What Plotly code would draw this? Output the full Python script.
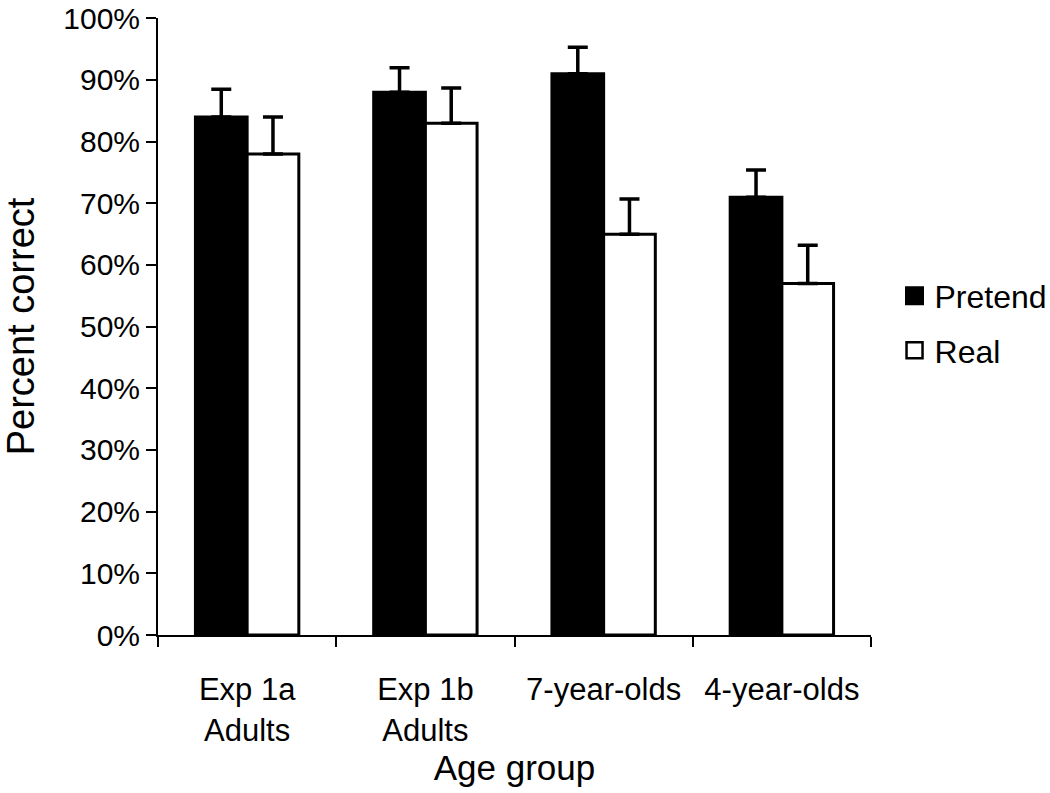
import plotly.graph_objects as go

categories = ["Exp 1a<br>Adults", "Exp 1b<br>Adults", "7-year-olds", "4-year-olds"]
pretend = [84, 88, 91, 71]
real = [78, 83, 65, 57]
pretend_err = [4.5, 4.0, 4.3, 4.4]
real_err = [6.0, 5.7, 5.7, 6.2]
y_ticks = [0, 10, 20, 30, 40, 50, 60, 70, 80, 90, 100]
y_tick_labels = [f"{v}%" for v in y_ticks]

FONT = "Liberation Sans, Arial, sans-serif"

fig = go.Figure()
fig.add_trace(go.Bar(
    name="Pretend", x=categories, y=pretend, showlegend=False,
    marker=dict(color="black", line=dict(color="black", width=3)),
    error_y=dict(type="data", array=pretend_err, arrayminus=[0] * 4, symmetric=False,
                 color="black", thickness=3.5, width=10),
))
fig.add_trace(go.Bar(
    name="Real", x=categories, y=real, showlegend=False,
    marker=dict(color="white", line=dict(color="black", width=3)),
    error_y=dict(type="data", array=real_err, arrayminus=[0] * 4, symmetric=False,
                 color="black", thickness=3.5, width=10),
))
# legend entries
fig.add_trace(go.Scatter(
    name="Pretend", x=[None], y=[None], mode="markers", legendgroup="p",
    marker=dict(symbol="square", size=16, color="black", line=dict(color="black", width=3)),
))
fig.add_trace(go.Scatter(
    name="Real", x=[None], y=[None], mode="markers", legendgroup="r",
    marker=dict(symbol="square", size=16, color="white", line=dict(color="black", width=2.5)),
))

fig.update_layout(
    width=1050, height=793,
    margin=dict(l=158, r=179, t=18, b=158, autoexpand=False),
    paper_bgcolor="white", plot_bgcolor="white",
    font=dict(family=FONT, size=30, color="black"),
    barmode="group", bargap=0.42, bargroupgap=0,
    showlegend=True,
    legend=dict(x=1.033, xanchor="left", y=0.505, yanchor="middle",
                font=dict(size=32), tracegroupgap=10, bgcolor="rgba(0,0,0,0)",
                itemwidth=30),
)
fig.update_xaxes(
    title=dict(text="Age group", font=dict(size=35), standoff=8),
    showline=True, linecolor="black", linewidth=2,
    ticks="outside", tickson="boundaries", ticklen=10, tickwidth=2, tickcolor="black",
    tickfont=dict(size=31), showgrid=False, automargin=False, ticklabelstandoff=26,
)
fig.update_yaxes(
    title=dict(text="Percent correct", font=dict(size=38), standoff=32),
    range=[0, 100.05], tickvals=y_ticks, ticktext=y_tick_labels,
    showline=True, linecolor="black", linewidth=2,
    ticks="outside", ticklen=10, tickwidth=2, tickcolor="black",
    tickfont=dict(size=30), showgrid=False, zeroline=False, automargin=False,
    ticklabeloverflow="allow",
)

fig.write_html(
    "out.html",
    config={"displayModeBar": False},
    post_script="document.documentElement.style.margin='0';document.body.style.margin='0';"
                "document.body.style.overflow='hidden';",
)
